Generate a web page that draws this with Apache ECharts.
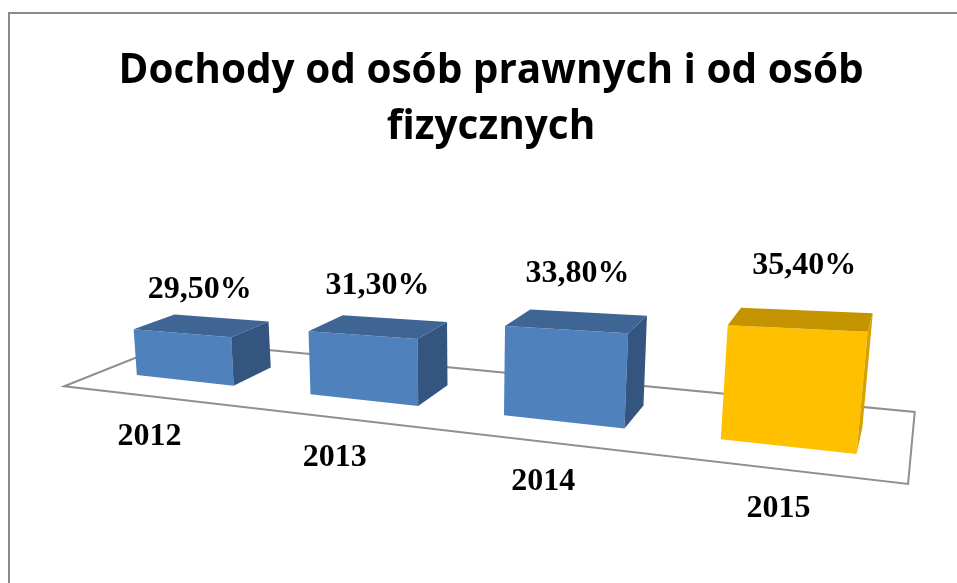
<!DOCTYPE html>
<html>
<head>
<meta charset="utf-8">
<title>Dochody od osób prawnych i od osób fizycznych</title>
<script src="https://cdn.jsdelivr.net/npm/echarts@6/dist/echarts.min.js"></script>
<style>
  html, body { margin: 0; padding: 0; background: #fff; }
  #chart { width: 957px; height: 583px; }
</style>
</head>
<body>
<div id="chart"></div>
<script>
// dane
const years = ['2012', '2013', '2014', '2015'];
const shares = [29.5, 31.3, 33.8, 35.4]; // %
const shareLabels = ['29,50%', '31,30%', '33,80%', '35,40%'];
const axisMin = 22;
const axisMax = 40;

const colors = {
  blue: { front: '#4F81BD', top: '#3F6595', side: '#34557F' },
  gold: { front: '#FFC000', top: '#C49400', side: '#D6A200' }
};
const labelFont = 'bold 32px "Liberation Serif", "Times New Roman", serif';

// perspektywa - dopasowana recznie do wykresu 3D z Excela
const VP = [950, 33];      // punkt zbiegu dla glebokosci
const VVP = [452, 4890];   // punkt zbiegu pionowych krawedzi (daleko w dole)
const S_REF = 200;
const BAR_HALF = 0.285;
const FLOOR = { u0: 0, u1: 4, d0: -0.9, d1: 1.8 };

function X(u) { return (156.09 * u + 101.79) / (1 - 0.05057 * u); }
function S(u) { const k = 1 - 0.05057 * u; return 161.24 / (k * k); }
function floorY(x) { return 375 + (x - 136) * 0.1097; }
function depthT(u) { return 0.0493 + 0.0033 * u; }

// u - pozycja wzdluz osi kategorii, h - wysokosc w px (skala osi y), d - glebokosc
function proj(u, h, d) {
  const bx = X(u);
  const by = floorY(bx);
  const hs = h * S(u) / S_REF;
  const k = hs / (VVP[1] - by);
  const x0 = bx + (bx - VVP[0]) * k;
  const y0 = by - hs;
  const t = d * depthT(u);
  return [x0 + (VP[0] - x0) * t, y0 + (VP[1] - y0) * t];
}

function renderFloor(params, api) {
  const f = FLOOR;
  return {
    type: 'polygon',
    shape: {
      points: [proj(f.u0, 0, f.d0), proj(f.u1, 0, f.d0), proj(f.u1, 0, f.d1), proj(f.u0, 0, f.d1)]
    },
    style: { fill: '#fff', stroke: '#8f8f8f', lineWidth: 2 }
  };
}

function renderBar(params, api) {
  const i = api.value(0);
  const v = api.value(1);
  const h = api.coord([i, axisMin])[1] - api.coord([i, v])[1];
  const u = i + 0.5;
  const a = u - BAR_HALF;
  const b = u + BAR_HALF;
  const c = i === years.length - 1 ? colors.gold : colors.blue;

  const fbl = proj(a, 0, 0), fbr = proj(b, 0, 0);
  const ftl = proj(a, h, 0), ftr = proj(b, h, 0);
  const btl = proj(a, h, 1), btr = proj(b, h, 1), bbr = proj(b, 0, 1);

  // etykieta nad slupkiem, troche wyzej niz gorna sciana
  const s = S(u);
  const lift = (0.27 * s - 20) * S_REF / s;
  const lab = proj(u, h + lift, 0.5);
  const yr = proj(u, 0, FLOOR.d0);

  return {
    type: 'group',
    children: [
      { type: 'polygon', shape: { points: [fbl, fbr, ftr, ftl] }, style: { fill: c.front } },
      { type: 'polygon', shape: { points: [fbr, bbr, btr, ftr] }, style: { fill: c.side } },
      { type: 'polygon', shape: { points: [ftl, ftr, btr, btl] }, style: { fill: c.top } },
      {
        type: 'text',
        style: {
          text: shareLabels[i], x: lab[0], y: lab[1] - 11,
          font: labelFont, fill: '#000', align: 'center', verticalAlign: 'middle'
        }
      },
      {
        type: 'text',
        style: {
          text: years[i], x: yr[0], y: yr[1] + 40,
          font: labelFont, fill: '#000', align: 'center', verticalAlign: 'middle'
        }
      }
    ]
  };
}

const myChart = echarts.init(document.getElementById('chart'));
const option = {
  backgroundColor: '#fff',
  animation: false,
  title: {
    text: 'Dochody od osób prawnych i od osób\nfizycznych',
    left: 486,
    top: 38,
    textAlign: 'center',
    textStyle: {
      fontFamily: '"Open Sans", sans-serif',
      fontWeight: 'bold',
      fontSize: 40.5,
      lineHeight: 56,
      color: '#000'
    }
  },
  graphic: [{
    type: 'rect',
    shape: { x: 9, y: 13, width: 1200, height: 800 },
    style: { fill: 'none', stroke: '#8a8a8a', lineWidth: 2 },
    silent: true
  }],
  grid: { left: 0, right: 0, top: 0, height: (axisMax - axisMin) * 7.4 },
  xAxis: { type: 'category', data: years, show: false },
  yAxis: { type: 'value', min: axisMin, max: axisMax, show: false },
  series: [
    {
      type: 'custom',
      silent: true,
      z: 1,
      renderItem: renderFloor,
      data: [[0, axisMin]]
    },
    {
      type: 'custom',
      silent: true,
      z: 2,
      renderItem: renderBar,
      encode: { x: 0, y: 1 },
      data: shares.map((v, i) => [i, v])
    }
  ]
};
myChart.setOption(option);
</script>
</body>
</html>
